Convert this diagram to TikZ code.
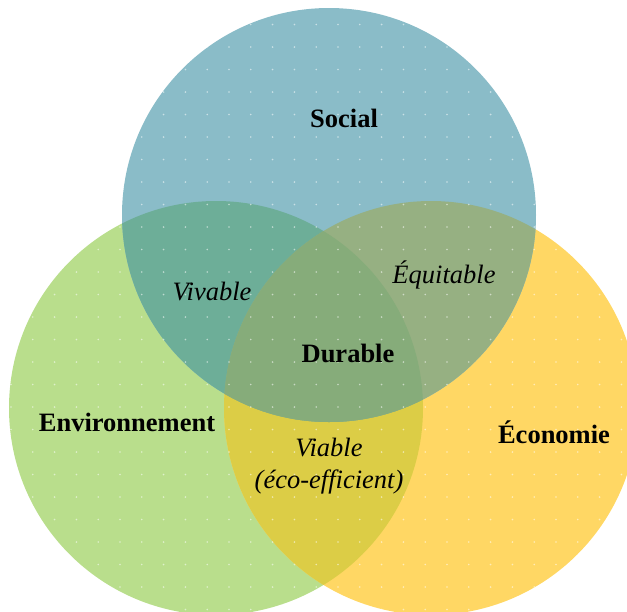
\documentclass[tikz,border=0pt]{standalone}
\usepackage{fontspec}
\setmainfont{Liberation Serif}
\definecolor{cS}{HTML}{8ABCC8}
\definecolor{cE}{HTML}{B9DE8C}
\definecolor{cC}{HTML}{FFD764}
\definecolor{cEC}{HTML}{DCCD46}
\definecolor{cSE}{HTML}{6DAE98}
\definecolor{cSC}{HTML}{96B082}
\definecolor{cAll}{HTML}{86AC7A}
\tikzset{
  bigbold/.style={font=\fontsize{26.5}{31}\selectfont\bfseries, text=black, inner sep=0pt},
  bigit/.style={font=\fontsize{26.5}{32}\selectfont\itshape, text=black, inner sep=0pt, align=center},
  dotmark/.style={fill=white, opacity=0.55}
}
\begin{document}
\begin{tikzpicture}[x=1pt,y=-1pt]
\useasboundingbox (0,0) rectangle (627,611);
\clip (0,0) rectangle (627,611);
\coordinate (S) at (329,215);
\coordinate (E) at (216,408);
\coordinate (C) at (431,408);
\def\R{207pt}
\fill[cE] (E) circle (\R);
\fill[cC] (C) circle (\R);
\fill[cS] (S) circle (\R);
\begin{scope}\clip (E) circle (\R); \fill[cEC] (C) circle (\R); \end{scope}
\begin{scope}\clip (E) circle (\R); \fill[cSE] (S) circle (\R); \end{scope}
\begin{scope}\clip (C) circle (\R); \fill[cSC] (S) circle (\R); \end{scope}
\begin{scope}\clip (E) circle (\R); \clip (C) circle (\R); \fill[cAll] (S) circle (\R); \end{scope}
\begin{scope}
\clip (E) circle (\R) (C) circle (\R) (S) circle (\R);
\foreach \i in {0,...,28} {
  \foreach \j in {0,...,27} {
    \fill[dotmark] ({\i*21.8+11},{\j*22.5+2}) circle (0.9pt);
  }
}
\end{scope}
\node[bigbold] (social) at (344,118) {Social};
\node[bigbold] (durable) at (348,353) {Durable};
\node[bigbold] (env) at (127,422) {Environnement};
\node[bigbold] (eco) at (554,432) {Économie};
\node[bigit] (vivable) at (212,292) {Vivable};
\node[bigit] (equit) at (444,275) {Équitable};
\node[bigit] (viable) at (329,466) {Viable\\(éco-efficient)};
\end{tikzpicture}
\end{document}
